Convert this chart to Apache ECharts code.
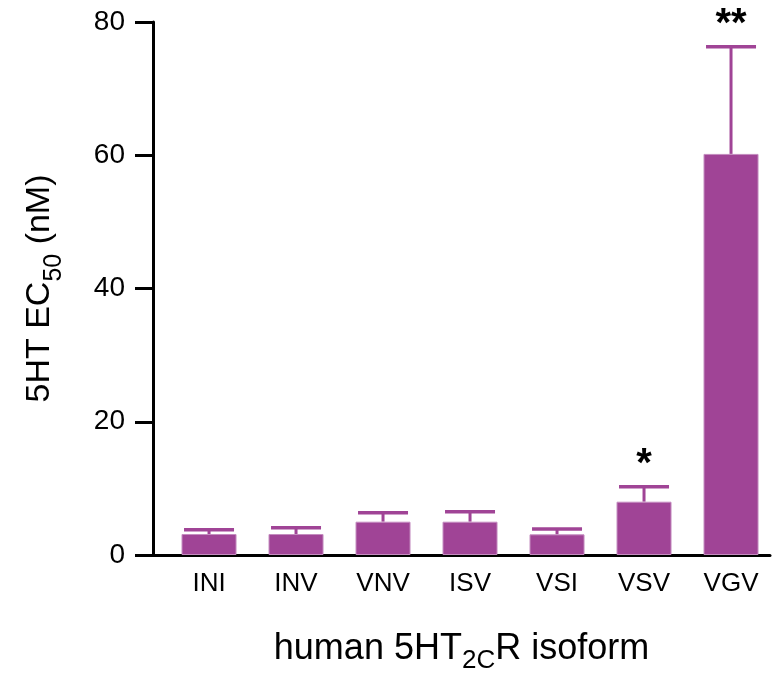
<!DOCTYPE html>
<html>
<head>
<meta charset="utf-8">
<script src="https://cdn.jsdelivr.net/npm/echarts@6/dist/echarts.min.js"></script>
<style>
  html, body { margin: 0; padding: 0; background: #fff; }
  #chart { width: 772px; height: 674px; }
</style>
</head>
<body>
<div id="chart"></div>
<script>
const isoforms = ['INI', 'INV', 'VNV', 'ISV', 'VSI', 'VSV', 'VGV']
const ec50 = [3.15, 3.15, 5.0, 5.0, 3.1, 8.0, 60.2]
const errUpper = [3.8, 4.1, 6.35, 6.5, 3.9, 10.25, 76.3]
const marks = ['', '', '', '', '', '*', '**']
const yTicks = [0, 20, 40, 60, 80]

const purple = '#a04496'
const font = 'Liberation Sans, Arial, sans-serif'

const chart = echarts.init(document.getElementById('chart'))

chart.setOption({
  animation: false,
  grid: { left: 153, right: 2, top: 22, bottom: 119, outerBoundsMode: 'none', containLabel: false },
  xAxis: {
    type: 'value',
    min: -0.644,
    max: 6.448,
    axisLine: { show: true, onZero: false, lineStyle: { color: '#000', width: 3 } },
    axisTick: { show: false },
    splitLine: { show: false },
    axisLabel: {
      customValues: isoforms.map((_, i) => i),
      formatter: v => isoforms[Math.round(v)],
      color: '#000', fontSize: 26, fontFamily: font, margin: 16
    },
    name: '{t|human 5HT}{s|2C}{t|R isoform}',
    nameLocation: 'middle',
    nameGap: 72,
    nameTextStyle: {
      rich: {
        t: { fontSize: 36, fontFamily: font, color: '#000', lineHeight: 40, verticalAlign: 'bottom' },
        s: { fontSize: 26, fontFamily: font, color: '#000', lineHeight: 40, verticalAlign: 'bottom', padding: [0, 0, -7, 0] }
      }
    }
  },
  yAxis: {
    type: 'value',
    min: 0, max: 80, interval: 20,
    axisLine: { show: true, onZero: false, lineStyle: { color: '#000', width: 3 } },
    axisTick: { show: true, inside: false, length: 18, lineStyle: { color: '#000', width: 3 } },
    splitLine: { show: false },
    axisLabel: { color: '#000', fontSize: 28, fontFamily: font, margin: 28,
      formatter: v => yTicks.includes(v) ? String(v) : '' },
    name: '{t|5HT EC}{s|50}{t| (nM)}',
    nameLocation: 'middle',
    nameGap: 96,
    nameTextStyle: {
      rich: {
        t: { fontSize: 34, fontFamily: font, color: '#000', lineHeight: 44, verticalAlign: 'bottom' },
        s: { fontSize: 25, fontFamily: font, color: '#000', lineHeight: 44, verticalAlign: 'bottom', padding: [0, 0, -10, 0] }
      }
    }
  },
  series: [
    {
      type: 'custom',
      z: 1,
      renderItem: (params, api) => {
        const i = api.value(0)
        const top = api.coord([i, api.value(1)])
        const cap = api.coord([i, api.value(2)])
        return {
          type: 'group',
          children: [
            { type: 'line', shape: { x1: top[0], y1: top[1], x2: cap[0], y2: cap[1] },
              style: { stroke: purple, lineWidth: 3 } },
            { type: 'line', shape: { x1: cap[0] - 25, y1: cap[1], x2: cap[0] + 25, y2: cap[1] },
              style: { stroke: purple, lineWidth: 3.5 } },
            { type: 'text', x: cap[0], y: cap[1] - 2,
              style: { text: marks[i], fill: '#000', font: 'bold 40px ' + font, align: 'center', verticalAlign: 'bottom' } }
          ]
        }
      },
      data: ec50.map((v, i) => [i, v, errUpper[i]])
    },
    {
      type: 'bar',
      z: 2,
      barWidth: 55,
      itemStyle: { color: purple, borderColor: '#c48cbf', borderWidth: 1 },
      data: ec50.map((v, i) => [i, v])
    }
  ]
})
</script>
</body>
</html>
